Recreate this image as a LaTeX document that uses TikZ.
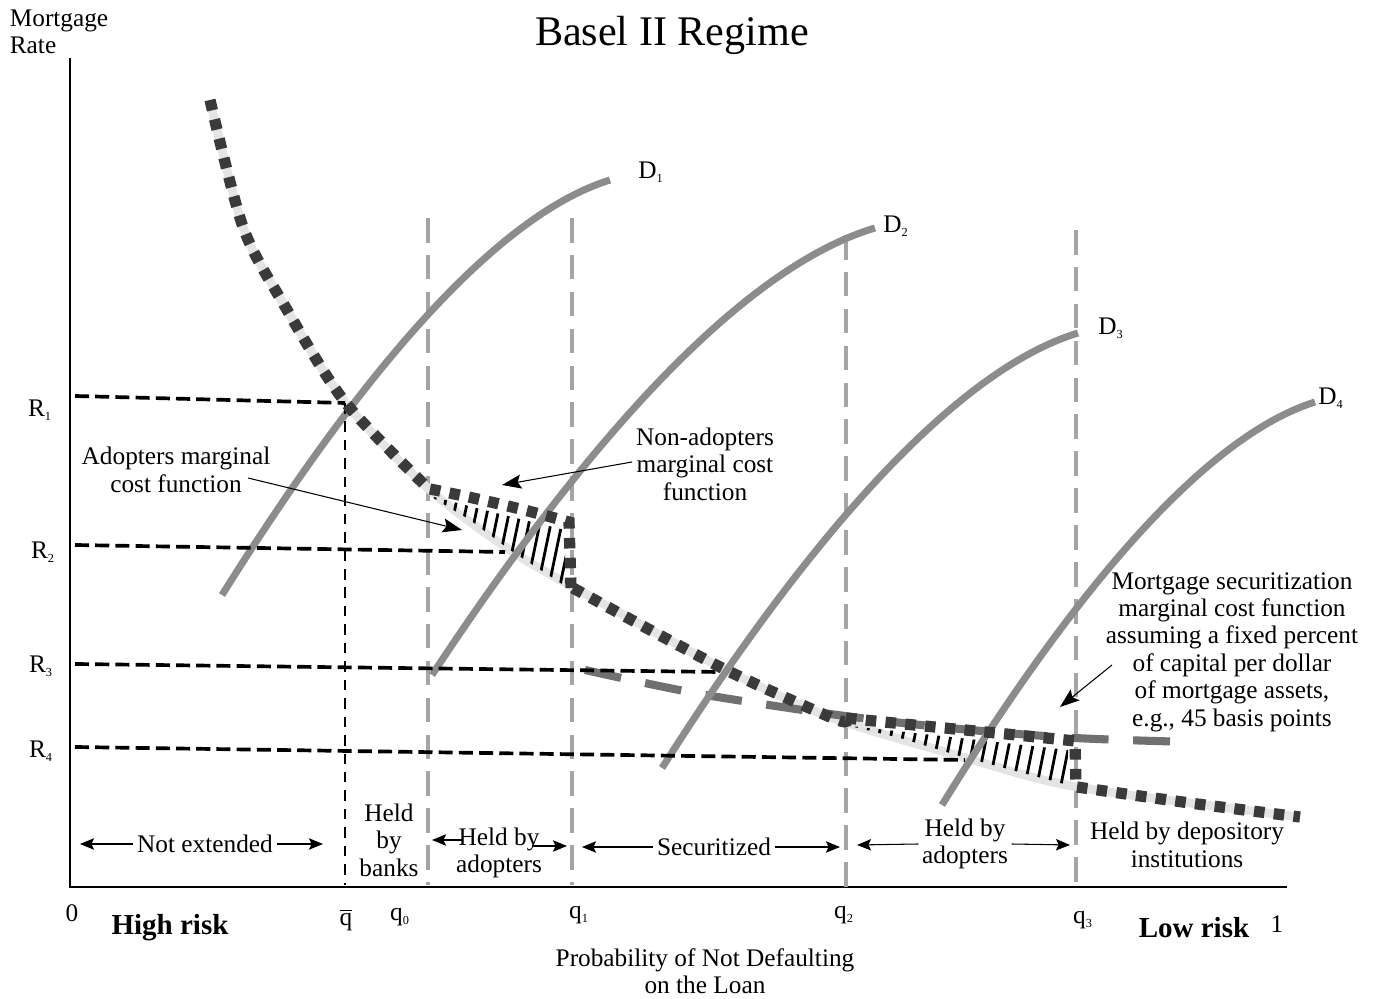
\documentclass[tikz,border=0pt]{standalone}
\usepackage{fontspec}
\setmainfont{Liberation Serif}
\usetikzlibrary{arrows.meta}
\definecolor{sqgray}{RGB}{58,58,58}
\definecolor{dgray}{RGB}{140,140,140}
\definecolor{lgray}{RGB}{228,228,228}
\definecolor{vgray}{RGB}{165,165,165}
\definecolor{sgray}{RGB}{112,112,112}
\newcommand{\lsub}[1]{\textsubscript{\fontsize{7}{7}\selectfont #1}}
\begin{document}
\begin{tikzpicture}[x=0.02cm,y=-0.02cm,
  txt/.style={font=\fontsize{14.4}{15.6}\selectfont, align=center, inner sep=2pt},
  bigtxt/.style={font=\fontsize{16.5}{18}\selectfont\bfseries, inner sep=1pt},
  ptr/.style={line width=0.6pt, -{Stealth[length=11pt,width=8pt,inset=2pt]}},
  rptr/.style={line width=0.6pt, -{Stealth[length=8pt,width=6.5pt,inset=1.5pt]}},
  rline/.style={line width=2.1pt, dash pattern=on 8pt off 3.5pt},
  qline/.style={line width=2.2pt, vgray, dash pattern=on 14pt off 7pt},
  demand/.style={line width=4pt, dgray},
  adopt/.style={line width=5pt, lgray},
  nonadopt/.style={line width=6.4pt, sqgray, dash pattern=on 6pt off 5.3pt},
  secur/.style={line width=4.6pt, sgray, dash pattern=on 21pt off 14pt},
  hatch/.style={line width=1.6pt}]
\useasboundingbox (0,0) rectangle (1374,999);

% axes
\draw[line width=0.9pt] (70,58) -- (70,887) -- (1287,887);

% gray quantity lines
\draw[qline] (428,218) -- (428,885);
\draw[qline] (572,218) -- (572,885);
\draw[qline] (846,235) -- (846,890);
\draw[qline] (1076,230) -- (1076,890);

% adopters marginal cost
\draw[adopt] plot[smooth] coordinates {(210,100) (243,227) (283,303) (345,402) (430,490) (510,550) (573,587) (720,667) (830,717) (963,757) (1077,787) (1300,817)};

% securitization marginal cost
\draw[secur] plot[smooth] coordinates {(585,670) (700,694) (845,716) (960,729) (1075,738) (1190,742)};

% hatched gaps
\begin{scope}
\clip (430,496) -- (500,514) -- (565,530) -- (565,586) -- (510,550) -- (470,520) -- cycle;
\foreach \x in {430,441,...,620}
  \draw[hatch] (\x,470) -- ++(-27,130);
\end{scope}
\begin{scope}
\clip (850,726) -- (960,738) -- (1068,750) -- (1068,785) -- (963,757) -- (900,738) -- cycle;
\foreach \x in {860,872,...,1100}
  \draw[hatch] (\x,710) -- ++(-18,90);
\end{scope}

% demand curves
\draw[demand] (222,595) .. controls (331,421) and (478,221) .. (610,180);
\draw[demand] (432,675) .. controls (556,487) and (724,273) .. (875,228);
\draw[demand] (662,768) .. controls (778,585) and (937,376) .. (1078,333);
\draw[demand] (942,805) .. controls (1046,636) and (1188,442) .. (1315,402);

% rate lines
\draw[rline] (75,396) -- (345,403);
\draw[rline, line width=1.6pt, dash pattern=on 6pt off 4.5pt] (345,403) -- (345,885);
\draw[rline] (75,545) -- (505,552);
\draw[rline] (75,664) -- (720,672);
\draw[rline] (75,747) -- (965,760);

% non-adopters marginal cost
\draw[nonadopt] plot[smooth] coordinates {(210,100) (243,227) (283,303) (345,402) (430,490)};
\draw[nonadopt] (430,489) .. controls (470,497) and (520,508) .. (569,522) -- (571,588);
\draw[nonadopt] plot[smooth] coordinates {(573,588) (720,667) (830,717) (846,721)};
\draw[nonadopt] (846,718) .. controls (920,726) and (1000,733) .. (1075,741) -- (1076,786);
\draw[nonadopt] plot[smooth] coordinates {(1077,787) (1190,803) (1300,817)};

% title and axis texts
\node[font=\fontsize{24}{26}\selectfont] (title) at (672,35) {Basel II Regime};
\node[txt, align=left, anchor=west] (ylab) at (6,32) {Mortgage\\Rate};
\node[txt, align=center] (xlab) at (705,971) {Probability of Not Defaulting\\on the Loan};
\node[bigtxt] (hirisk) at (170,928) {High risk};
\node[bigtxt] (lorisk) at (1194,928) {Low risk};
\node[txt] (zero) at (72,913) {0};
\node[txt] (one) at (1277,924) {1};
\node[txt] (qbar) at (346,920) {$\overline{\hbox{q}}$};
\node[txt] (q0) at (400,917) {q\lsub{0}};
\node[txt] (q1) at (579,915) {q\lsub{1}};
\node[txt] (q2) at (844,915) {q\lsub{2}};
\node[txt] (q3) at (1083,920) {q\lsub{3}};
\node[txt] (r1) at (40,410) {R\lsub{1}};
\node[txt] (r2) at (43,552) {R\lsub{2}};
\node[txt] (r3) at (41,666) {R\lsub{3}};
\node[txt] (r4) at (41,751) {R\lsub{4}};
\node[txt] (d1) at (651,172) {D\lsub{1}};
\node[txt] (d2) at (896,226) {D\lsub{2}};
\node[txt] (d3) at (1111,328) {D\lsub{3}};
\node[txt] (d4) at (1331,398) {D\lsub{4}};

% curve annotations
\node[txt] (adoptlab) at (176,470) {Adopters marginal\\cost function};
\node[txt] (nonlab) at (705,464) {Non-adopters\\marginal cost\\function};
\node[txt] (seclab) at (1232,652) {Mortgage securitization\\marginal cost function\\assuming a fixed percent\\of capital per dollar\\of mortgage assets,\\e.g., 45 basis points};
\coordinate (adopttail) at (248,478);
\coordinate (adopttip) at (462,530);
\coordinate (nontail) at (632,462);
\coordinate (nontip) at (502,485);
\coordinate (sectail) at (1112,665);
\coordinate (sectip) at (1060,707);
\draw[ptr] (adopttail) -- (adopttip);
\draw[ptr] (nontail) -- (nontip);
\draw[ptr] (sectail) -- (sectip);

% regions
\node[txt] (notext) at (205,844) {Not extended};
\node[txt] (bybanks) at (389,840) {Held\\by\\banks};
\node[txt] (byadopt) at (499,853) {Held by\\adopters};
\node[txt] (secur) at (714,847) {Securitized};
\node[txt] (byadopt2) at (965,844) {Held by\\adopters};
\node[txt] (bydepo) at (1187,845) {Held by depository\\institutions};
\coordinate (neL) at (80,844);
\coordinate (neR) at (323,844);
\coordinate (baLt) at (463,840);
\coordinate (baL) at (432,840);
\coordinate (baRt) at (532,846);
\coordinate (baR) at (567,846);
\coordinate (seL) at (582,847);
\coordinate (seR) at (840,847);
\coordinate (bbL) at (857,845);
\coordinate (bbR) at (1070,845);
\draw[rptr] (notext.west) -- (neL);
\draw[rptr] (notext.east) -- (neR);
\draw[rptr] (baLt) -- (baL);
\draw[rptr] (baRt) -- (baR);
\draw[rptr] (secur.west) -- (seL);
\draw[rptr] (secur.east) -- (seR);
\draw[rptr] (byadopt2.west) -- (bbL);
\draw[rptr] (byadopt2.east) -- (bbR);
\end{tikzpicture}
\end{document}
